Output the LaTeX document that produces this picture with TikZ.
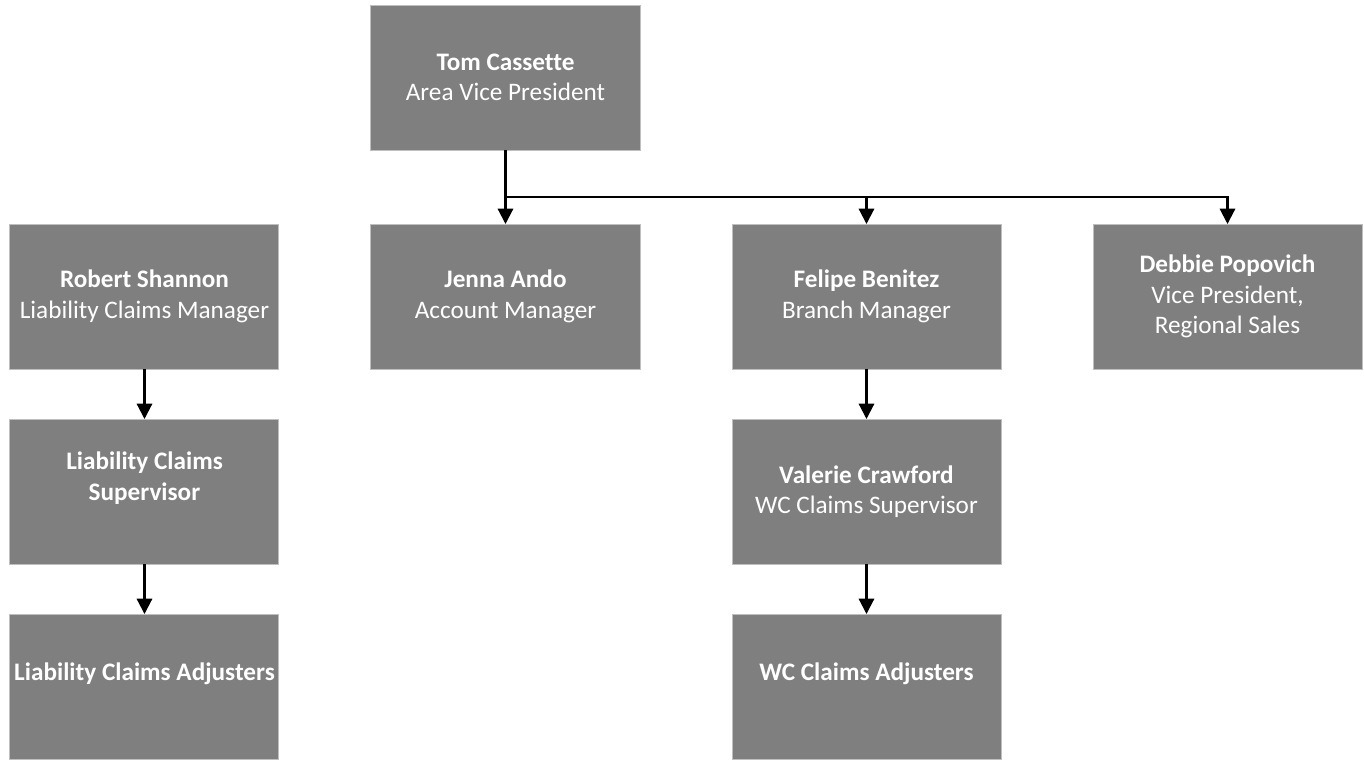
\documentclass[tikz,border=0pt]{standalone}
\usepackage{fontspec}
\setmainfont{Carlito}[Ligatures=CommonOff]
\usepackage{tikz}
\usetikzlibrary{arrows.meta, positioning, calc}
\usepackage{xcolor}
\definecolor{cBox}{RGB}{127,127,127}
\definecolor{cEdge}{RGB}{191,191,191}

\begin{document}
\begin{tikzpicture}[font=\fontsize{18.9}{22.8}\selectfont,
  box/.style={draw=cEdge, line width=0.75pt, fill=cBox, text=white, align=center,
    minimum width=201.75pt, minimum height=108.75pt, inner sep=0pt, outer sep=0pt},
  link/.style={line width=1.6pt, -{Triangle[length=11.5pt,width=11.5pt]}}]
  \node[box] (tom) {\textbf{Tom Cassette}\\Area Vice President};
  \node[box, below=55.5pt of tom] (jenna) {\textbf{Jenna Ando}\\Account Manager};
  \node[box, left=69pt of jenna] (robert) {\textbf{Robert Shannon}\\Liability Claims Manager};
  \node[box, right=69pt of jenna] (felipe) {\textbf{Felipe Benitez}\\Branch Manager};
  \node[box, right=69pt of felipe] (debbie) {\textbf{Debbie Popovich}\\Vice President,\\Regional Sales};
  \node[box, below=37.5pt of robert] (lsup) {\textbf{Liability Claims}\\\textbf{Supervisor}\\\mbox{}};
  \node[box, below=37.5pt of lsup] (ladj) {\textbf{Liability Claims Adjusters}\\\mbox{}};
  \node[box, below=37.5pt of felipe] (valerie) {\textbf{Valerie Crawford}\\WC Claims Supervisor};
  \node[box, below=37.5pt of valerie] (wcadj) {\textbf{WC Claims Adjusters}\\\mbox{}};
  % tree lines
  \draw[line width=1.6pt] (tom.south) -- ++(0,-35.25pt) coordinate (bus);
  \draw[link] (bus) -- (jenna.north);
  \draw[link] (bus) -| (felipe.north);
  \draw[link] (bus) -| (debbie.north);
  \draw[link] (robert) -- (lsup);
  \draw[link] (lsup) -- (ladj);
  \draw[link] (felipe) -- (valerie);
  \draw[link] (valerie) -- (wcadj);
  \useasboundingbox ($(robert.west |- tom.north)+(-7.5pt,3.75pt)$) rectangle ++(1023pt,-564.75pt);
\end{tikzpicture}
\end{document}
